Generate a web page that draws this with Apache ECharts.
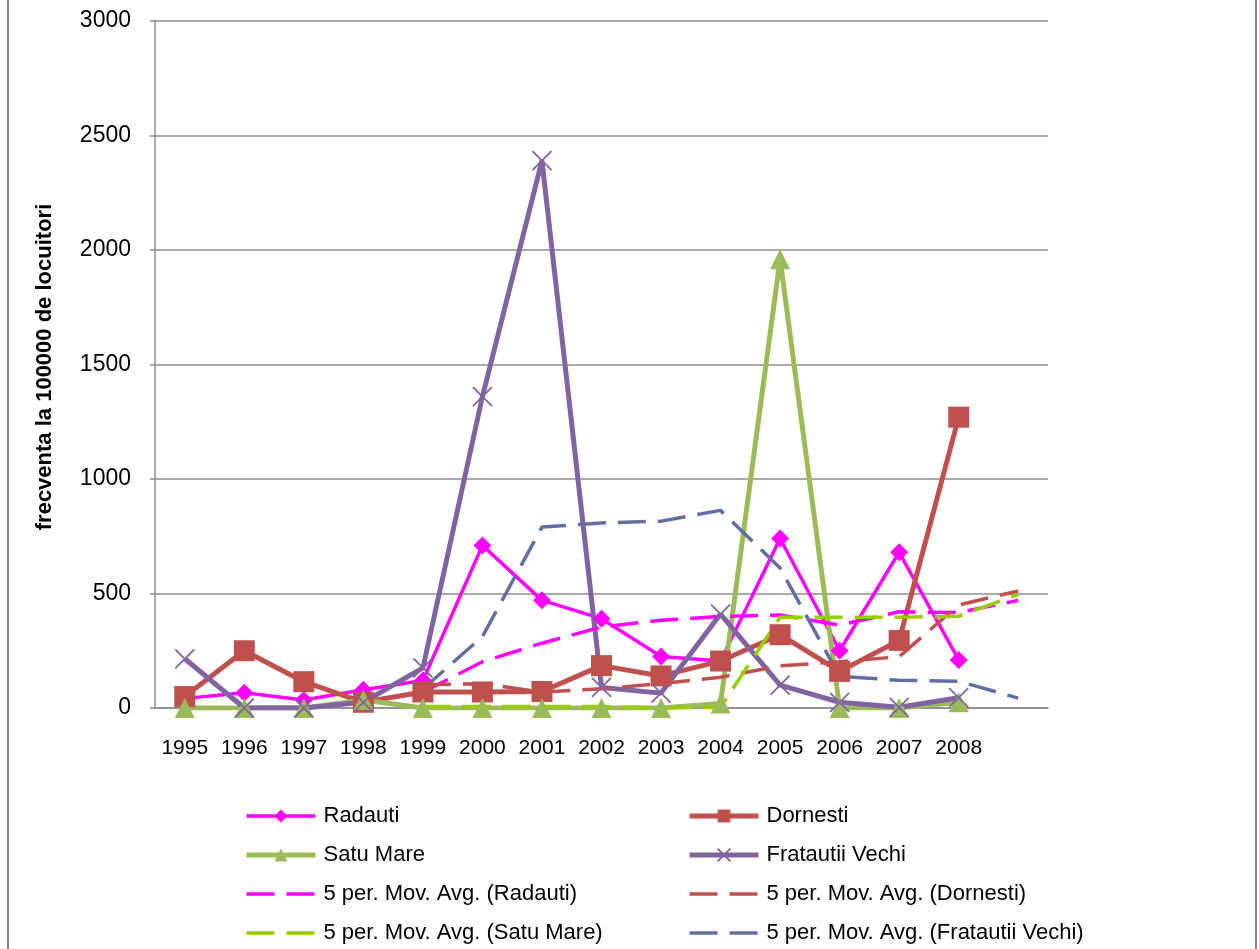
<!DOCTYPE html>
<html>
<head>
<meta charset="utf-8">
<script src="https://cdn.jsdelivr.net/npm/echarts@6/dist/echarts.min.js"></script>
<style>
  html, body { margin: 0; padding: 0; background: #ffffff; }
  #chart { width: 1259px; height: 949px; }
</style>
</head>
<body>
<div id="chart"></div>
<script>
// Years on the category axis; the trailing blank slot carries the last moving-average point
const years = ['1995', '1996', '1997', '1998', '1999', '2000', '2001', '2002', '2003', '2004', '2005', '2006', '2007', '2008', ''];

// Frequency per 100000 inhabitants
const radauti  = [42, 67, 35, 80, 120, 710, 470, 390, 225, 205, 740, 250, 680, 210, null];
const dornesti = [50, 250, 115, 25, 70, 70, 72, 185, 140, 205, 320, 160, 295, 1270, null];
const satuMare = [0, 0, 0, 35, 0, 0, 0, 0, 0, 20, 1960, 0, 0, 25, null];
const fratautii = [215, 0, 0, 25, 175, 1360, 2390, 90, 65, 410, 100, 25, 3, 45, null];

// 5-period moving averages (trend lines)
const maRadauti  = [null, null, null, null, 69, 202, 283, 354, 383, 400, 406, 362, 420, 417, 470];
const maDornesti = [null, null, null, null, 102, 106, 70, 84, 107, 134, 184, 202, 224, 450, 511];
const maSatuMare = [null, null, null, null, 7, 7, 7, 7, 0, 4, 396, 396, 396, 401, 496];
const maFratautii = [null, null, null, null, 83, 312, 790, 808, 816, 863, 611, 138, 121, 117, 43];

// Value axis ticks
const yTicks = [0, 500, 1000, 1500, 2000, 2500, 3000];

const FONT = "'Liberation Sans', Arial, sans-serif";
const GRID_GRAY = '#8c8c8c';
const X_PATH = 'path://M0,0L10,10M10,0L0,10';
const DASH = [28, 12];

function mainSeries(name, data, color, width, symbol, size, extra) {
  return Object.assign({
    name: name,
    type: 'line',
    data: data,
    symbol: symbol,
    symbolSize: size,
    showAllSymbol: true,
    lineStyle: { color: color, width: width },
    itemStyle: { color: color },
    emphasis: { disabled: true },
    animation: false
  }, extra || {});
}

function maSeries(name, data, color) {
  return {
    name: name,
    type: 'line',
    data: data,
    symbol: 'none',
    lineStyle: { color: color, width: 3.5, type: DASH },
    itemStyle: { color: color },
    emphasis: { disabled: true },
    z: 3,
    animation: false
  };
}

// legend entries: solid series keep their marker, trend lines show only the dashed stroke
function solidEntry(name, width) {
  return { name: name, lineStyle: { width: width } };
}
function dashedEntry(name) {
  return { name: name, lineStyle: { width: 3.5 }, itemStyle: { opacity: 0, borderWidth: 0 } };
}

const chart = echarts.init(document.getElementById('chart'), null, { renderer: 'canvas' });

const legendText = { fontFamily: FONT, fontSize: 22, color: '#000', lineHeight: 22, padding: [0, 0, 0, 3] };
const legendBase = {
  orient: 'vertical',
  top: 800,
  itemWidth: 69,
  itemHeight: 16,
  itemGap: 17,
  textStyle: legendText,
  selectedMode: false
};

chart.setOption({
  backgroundColor: '#ffffff',
  animation: false,
  grid: { left: 155, right: 211, top: 21, bottom: 241, containLabel: false },
  xAxis: {
    type: 'category',
    data: years,
    boundaryGap: true,
    axisLine: { show: true, lineStyle: { color: GRID_GRAY, width: 1.5 } },
    axisTick: { show: false },
    axisLabel: { fontFamily: FONT, fontSize: 21, color: '#000', margin: 30, interval: 0 },
    splitLine: { show: false }
  },
  yAxis: {
    type: 'value',
    min: yTicks[0],
    max: yTicks[yTicks.length - 1],
    interval: yTicks[1] - yTicks[0],
    axisLine: { show: true, lineStyle: { color: GRID_GRAY, width: 1.5 } },
    axisTick: { show: true, inside: false, length: 5, lineStyle: { color: GRID_GRAY, width: 1.5 } },
    axisLabel: {
      fontFamily: FONT, fontSize: 23, color: '#000', margin: 24,
      formatter: function (v) { return String(v); }
    },
    splitLine: { show: true, lineStyle: { color: GRID_GRAY, width: 1.5 } }
  },
  legend: [
    Object.assign({}, legendBase, {
      left: 239,
      data: [
        solidEntry('Radauti', 3.5),
        solidEntry('Satu Mare', 5),
        dashedEntry('5 per. Mov. Avg. (Radauti)'),
        dashedEntry('5 per. Mov. Avg. (Satu Mare)')
      ]
    }),
    Object.assign({}, legendBase, {
      left: 682,
      data: [
        solidEntry('Dornesti', 5),
        solidEntry('Fratautii Vechi', 5),
        dashedEntry('5 per. Mov. Avg. (Dornesti)'),
        dashedEntry('5 per. Mov. Avg. (Fratautii Vechi)')
      ]
    })
  ],
  graphic: [
    // chart area borders
    { type: 'line', shape: { x1: 8, y1: 0, x2: 8, y2: 949 }, style: { stroke: '#868686', lineWidth: 2 } },
    { type: 'line', shape: { x1: 1256, y1: 0, x2: 1256, y2: 949 }, style: { stroke: '#868686', lineWidth: 2 } },
    // value axis title
    {
      type: 'text',
      x: 45,
      y: 367,
      rotation: Math.PI / 2,
      style: {
        text: 'frecventa la 100000 de locuitori',
        font: "bold 22px " + FONT,
        fill: '#000',
        textAlign: 'center',
        textVerticalAlign: 'middle'
      }
    }
  ],
  series: [
    mainSeries('Radauti', radauti, '#FF00FF', 3.5, 'diamond', 18),
    mainSeries('Dornesti', dornesti, '#C0504D', 5, 'rect', 21),
    mainSeries('Satu Mare', satuMare, '#9BBB59', 5, 'triangle', 20),
    mainSeries('Fratautii Vechi', fratautii, '#8064A2', 5, X_PATH, 19, {
      itemStyle: { color: 'none', borderColor: '#8064A2', borderWidth: 1.8 }
    }),
    maSeries('5 per. Mov. Avg. (Radauti)', maRadauti, '#FF00FF'),
    maSeries('5 per. Mov. Avg. (Dornesti)', maDornesti, '#C0504D'),
    maSeries('5 per. Mov. Avg. (Satu Mare)', maSatuMare, '#99CC00'),
    maSeries('5 per. Mov. Avg. (Fratautii Vechi)', maFratautii, '#636EA0')
  ]
});
</script>
</body>
</html>
